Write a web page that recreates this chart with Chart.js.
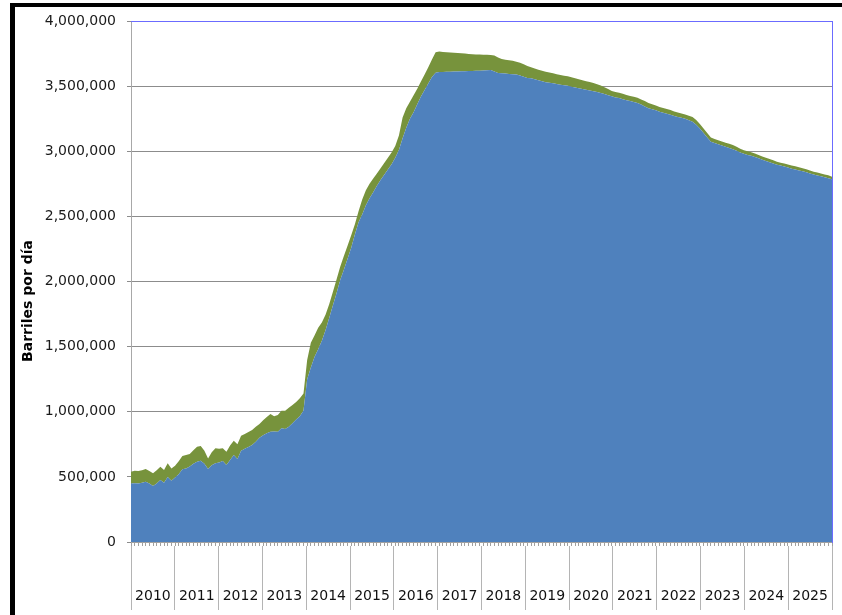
<!DOCTYPE html>
<html><head><meta charset="utf-8">
<script src="https://cdn.jsdelivr.net/npm/chart.js@4"></script>
<style>
html,body{margin:0;padding:0;background:#fff;}
#wrap{position:relative;width:842px;height:615px;overflow:hidden;}
#frame{position:absolute;left:10px;top:3px;width:832px;height:612px;border-top:4px solid #000;border-left:5px solid #000;box-sizing:border-box;pointer-events:none;}
canvas{position:absolute;left:0;top:0;}
</style></head><body>
<div id="wrap"><canvas id="c" width="842" height="615"></canvas><div id="frame"></div></div>
<script>
const years = ['2010','2011','2012','2013','2014','2015','2016','2017','2018','2019','2020','2021','2022','2023','2024','2025'];
const months = ['01','02','03','04','05','06','07','08','09','10','11','12'];
const yTicks = [0,500000,1000000,1500000,2000000,2500000,3000000,3500000,4000000];
const yTitle = 'Barriles por día';

// Lower (blue) series, barrels per day, monthly 2010-2025
const blueSeries = [
 450000,452000,450000,455000,463000,450000,430000,450000,476000,455000,500000,470000,
 495000,520000,558000,565000,580000,600000,617000,624000,600000,560000,590000,605000,
 610000,622000,591000,630000,668000,637000,700000,715000,730000,745000,770000,800000,
 820000,835000,847000,848000,847000,873000,868000,885000,911000,940000,965000,1010000,
 1250000,1340000,1420000,1480000,1545000,1625000,1720000,1815000,1910000,2011000,2090000,2175000,
 2260000,2360000,2455000,2515000,2585000,2640000,2685000,2735000,2780000,2820000,2860000,2900000,
 2950000,3010000,3100000,3180000,3250000,3300000,3360000,3420000,3470000,3520000,3570000,3603000,
 3608000,3608000,3610000,3611000,3612000,3613000,3614000,3615000,3616000,3617000,3618000,3619000,
 3620000,3622000,3624000,3612000,3600000,3598000,3596000,3594000,3592000,3590000,3582000,3572000,
 3563000,3560000,3552000,3545000,3537000,3530000,3526000,3522000,3516000,3511000,3507000,3502000,
 3496000,3490000,3484000,3478000,3472000,3466000,3460000,3454000,3448000,3440000,3430000,3422000,
 3412000,3408000,3400000,3392000,3385000,3378000,3370000,3358000,3344000,3330000,3322000,3314000,
 3303000,3295000,3288000,3280000,3270000,3262000,3258000,3250000,3238000,3226000,3204000,3175000,
 3140000,3105000,3073000,3063000,3054000,3045000,3035000,3025000,3015000,3003000,2990000,2980000,
 2972000,2965000,2956000,2946000,2934000,2925000,2916000,2906000,2896000,2890000,2882000,2875000,
 2866000,2860000,2853000,2846000,2838000,2830000,2822000,2814000,2808000,2800000,2793000,2785000
];
// Upper (green) series, stacked on top, barrels per day
const greenSeries = [
 90000,95000,95000,95000,97000,95000,97000,100000,102000,98000,104000,95000,
 90000,100000,102000,103000,96000,105000,115000,113000,100000,82000,100000,114000,
 105000,97000,102000,110000,110000,113000,115000,115000,115000,115000,115000,105000,
 115000,125000,136000,117000,128000,135000,140000,145000,141000,135000,138000,131000,
 147000,190000,165000,165000,140000,120000,105000,105000,105000,103000,105000,100000,
 95000,80000,85000,115000,115000,110000,105000,95000,90000,90000,90000,90000,
 90000,110000,160000,150000,130000,130000,120000,115000,120000,125000,135000,157000,
 157000,154000,150000,147000,144000,141000,138000,135000,130000,127000,125000,123000,
 121000,118000,115000,123000,120000,110000,106000,104000,102000,98000,98000,96000,
 92000,84000,83000,81000,81000,80000,78000,76000,76000,75000,73000,73000,
 72000,70000,68000,67000,66000,66000,64000,61000,57000,52000,48000,40000,
 43000,42000,42000,40000,39000,40000,40000,40000,41000,40000,38000,38000,
 37000,37000,37000,36000,35000,36000,32000,32000,34000,36000,36000,35000,
 35000,35000,32000,32000,31000,30000,31000,33000,33000,32000,30000,28000,
 28000,27000,27000,26000,26000,25000,24000,24000,24000,22000,23000,23000,
 24000,24000,25000,24000,24000,22000,21000,22000,22000,22000,22000,20000
];

const labels = [];
years.forEach(y => months.forEach(m => labels.push(y + '-' + m)));

const FONT = 'DejaVu Sans';

const yTitlePlugin = {
  id: 'yTitlePlugin',
  afterDraw(chart) {
    const ctx = chart.ctx;
    ctx.save();
    ctx.translate(28, 301);
    ctx.rotate(-Math.PI / 2);
    ctx.font = 'bold 14px "' + FONT + '"';
    ctx.fillStyle = '#000';
    ctx.textAlign = 'center';
    ctx.textBaseline = 'middle';
    ctx.fillText(yTitle, 0, 0);
    ctx.restore();
  }
};

new Chart(document.getElementById('c'), {
  type: 'line',
  data: {
    labels: labels,
    datasets: [
      { label: 'A', data: blueSeries, backgroundColor: '#4F81BD', borderColor: '#4F81BD', borderWidth: 0, pointRadius: 0, fill: 'origin', tension: 0 },
      { label: 'B', data: greenSeries, backgroundColor: '#77933C', borderColor: '#77933C', borderWidth: 0, pointRadius: 0, fill: '-1', tension: 0 }
    ]
  },
  options: {
    responsive: false,
    animation: false,
    devicePixelRatio: 1,
    layout: { padding: { top: 21, left: 0, right: 0, bottom: 0 } },
    plugins: { legend: { display: false }, tooltip: { enabled: false } },
    scales: {
      x: {
        type: 'category', position: 'bottom', weight: 0, offset: false,
        ticks: { display: false, autoSkip: false },
        grid: { drawOnChartArea: false, tickLength: 4, color: '#a0a0a0' },
        border: { display: true, color: '#a0a0a0' },
        afterFit(s) { s.height = 4; }
      },
      x2: {
        type: 'category', labels: years, position: 'bottom', weight: 1, offset: true,
        grid: { offset: true, drawOnChartArea: false, tickLength: 64, color: '#b4b4b4' },
        border: { display: false },
        ticks: { autoSkip: false, maxRotation: 0, padding: -22, font: { family: FONT, size: 14 }, color: '#111' },
        afterFit(s) { s.height = 69; }
      },
      x3: {
        type: 'category', labels: years, position: 'top', offset: true,
        grid: { display: false },
        ticks: { display: false },
        border: { display: true, color: '#6b6bff', width: 1, z: 1 },
        afterFit(s) { s.height = 0; }
      },
      y: {
        type: 'linear', position: 'left', stacked: true, min: 0, max: 4000000,
        afterBuildTicks(s) { s.ticks = yTicks.map(v => ({ value: v })); },
        ticks: { padding: 11, font: { family: FONT, size: 14 }, color: '#1a1a1a',
          callback: v => Number(v).toLocaleString('en-US') },
        grid: { tickLength: 4, color: '#8c8c8c' },
        border: { display: true, color: '#a8a8a8' },
        afterFit(s) { s.width = 131; }
      },
      y2: {
        type: 'linear', position: 'right', min: 0, max: 4000000,
        grid: { display: false },
        ticks: { display: false },
        border: { display: true, color: '#6b6bff', width: 1, z: 1 },
        afterFit(s) { s.width = 10; }
      }
    }
  },
  plugins: [yTitlePlugin]
});
</script>
</body></html>
